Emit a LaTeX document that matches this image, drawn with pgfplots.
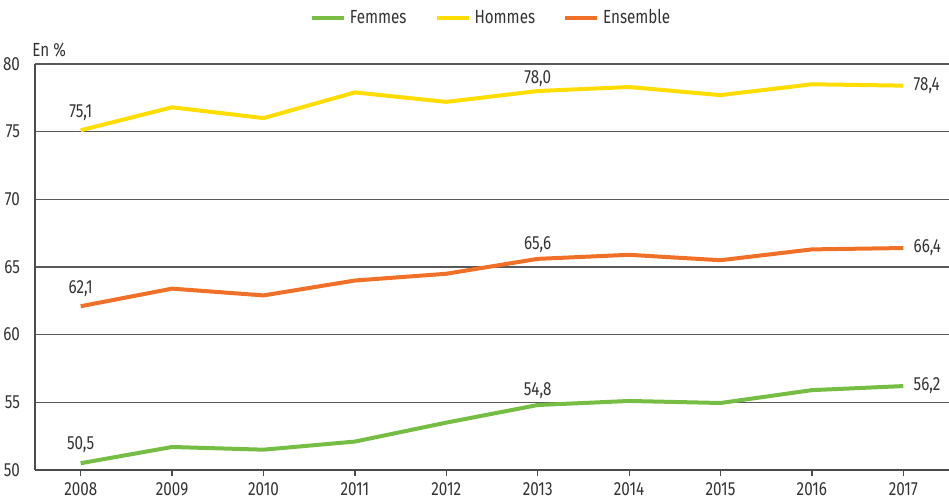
\documentclass[border=0pt]{standalone}
\usepackage{fontspec}
\setmainfont{Fira Sans}[FakeStretch=0.8]
\usepackage{pgfplots}
\pgfplotsset{compat=1.18}
\definecolor{cF}{HTML}{76BE43}
\definecolor{cH}{HTML}{FFDD00}
\definecolor{cE}{HTML}{F07028}
\definecolor{txt}{HTML}{333333}
\begin{document}
\begin{tikzpicture}
\useasboundingbox (-17.5pt,-15.5pt) rectangle (457pt,235pt);
\begin{axis}[
  scale only axis, width=457pt, height=203pt,
  at={(0,0)}, anchor=south west,
  xmin=2007.5, xmax=2017.5, ymin=50, ymax=80,
  xtick={2008,2009,2010,2011,2012,2013,2014,2015,2016,2017},
  xticklabels={2008,2009,2010,2011,2012,2013,2014,2015,2016,2017},
  ytick={50,55,60,65,70,75,80},
  /pgf/number format/assume math mode=true,
  axis lines=left, axis line style={-, black!70, line width=0.7pt},
  ymajorgrids, grid style={black!65, line width=0.6pt},
  ytick style={draw=none},
  xtick style={black!70, line width=0.6pt},
  tick align=outside, major tick length=3pt,
  ticklabel style={font=\fontsize{9.5}{11}\selectfont, text=txt},
  yticklabel style={xshift=-1pt},
  legend columns=3,
  legend style={draw=none, fill=none, at={(0.5,1.113)}, anchor=center,
    font=\fontsize{9.5}{11}\selectfont, text=txt,
    /tikz/every even column/.append style={column sep=12pt}},
  legend image code/.code={\draw[#1, line width=2pt] (0pt,0pt) -- (16pt,0pt);},
  every axis plot/.append style={line width=2pt, line join=round},
  clip=false,
]
\addplot[cF, mark=none] coordinates {(2008,50.5) (2009,51.7) (2010,51.5) (2011,52.1) (2012,53.5) (2013,54.8) (2014,55.1) (2015,54.95) (2016,55.9) (2017,56.2)};
\addlegendentry{Femmes}
\addplot[cH, mark=none] coordinates {(2008,75.1) (2009,76.8) (2010,76.0) (2011,77.9) (2012,77.2) (2013,78.0) (2014,78.3) (2015,77.7) (2016,78.5) (2017,78.4)};
\addlegendentry{Hommes}
\addplot[cE, mark=none] coordinates {(2008,62.1) (2009,63.4) (2010,62.9) (2011,64.0) (2012,64.5) (2013,65.6) (2014,65.9) (2015,65.5) (2016,66.3) (2017,66.4)};
\addlegendentry{Ensemble}
\begin{scope}[every node/.style={font=\fontsize{9.5}{11}\selectfont, text=txt, inner sep=0pt}]
\node[anchor=base, yshift=6.5pt] at (axis cs:2008,75.1) {75,1};
\node[anchor=base, yshift=4pt] at (axis cs:2013,78.0) {78,0};
\node[anchor=west, xshift=5pt] at (axis cs:2017,78.4) {78,4};
\node[anchor=base, yshift=6.5pt] at (axis cs:2008,62.1) {62,1};
\node[anchor=base, yshift=4.5pt] at (axis cs:2013,65.6) {65,6};
\node[anchor=west, xshift=5pt] at (axis cs:2017,66.4) {66,4};
\node[anchor=base, yshift=7pt] at (axis cs:2008,50.5) {50,5};
\node[anchor=base, yshift=5pt] at (axis cs:2013,54.8) {54,8};
\node[anchor=west, xshift=5pt] at (axis cs:2017,56.2) {56,2};
\node[anchor=south west, xshift=-1.5pt, yshift=3pt] at (rel axis cs:0,1) {En \%};
\end{scope}
\end{axis}
\end{tikzpicture}
\end{document}
